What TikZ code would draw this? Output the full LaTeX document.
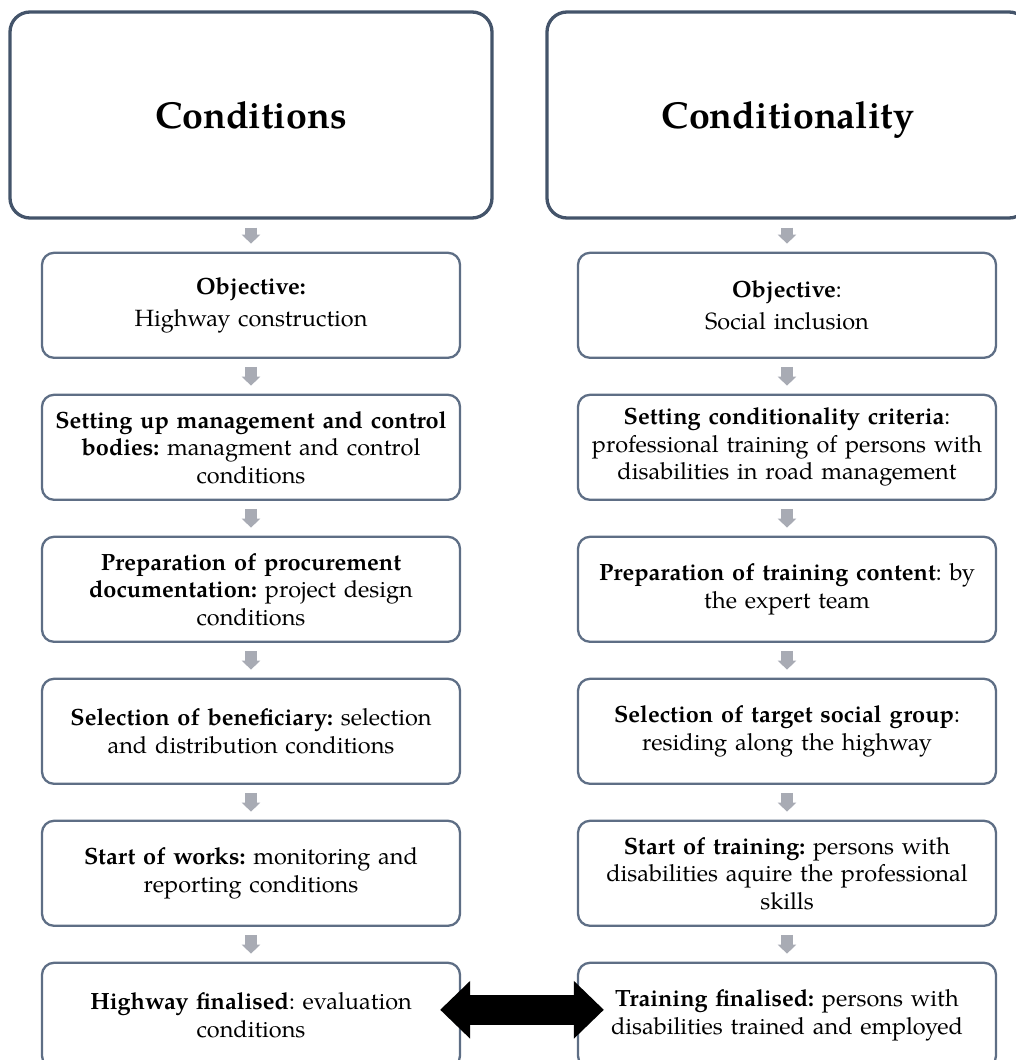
\documentclass[tikz,border=0pt]{standalone}
\usepackage{fontspec}
\setmainfont{TeX Gyre Pagella}
\usepackage{tikz}
\usetikzlibrary{positioning}
\usetikzlibrary{arrows.meta}
\frenchspacing
\tikzset{head/.style = {draw=mslate, line width=3.3pt, rounded corners=20pt,
                        minimum width=482pt, minimum height=206pt,
                        text height=27pt, text depth=0pt,
                        font=\fontsize{37.5}{44}\selectfont\bfseries}}
\tikzset{stage/.style = {draw=mframe, line width=2.3pt, rounded corners=12pt,
                         minimum width=418pt, minimum height=105pt,
                         text width=416pt, align=center, inner sep=0pt,
                         font=\fontsize{23.5}{27.5}\selectfont\frenchspacing}}
\tikzset{down/.style = {mgrey, line width=12pt, -{Triangle[width=18pt, length=9pt]},
                        shorten <=8pt, shorten >=8pt}}
\tikzset{both/.style = {black, line width=30pt,
                        {Triangle[width=56pt, length=30pt]}-{Triangle[width=56pt, length=30pt]}}}
\definecolor{mslate}{HTML}{44546A}
\definecolor{mframe}{HTML}{5E6E85}
\definecolor{mgrey}{HTML}{A8ABB4}

\begin{document}
\begin{tikzpicture}[x=1pt, y=-1pt]
      \useasboundingbox (0, 0) rectangle (1016, 1060);

      \node [head] (lhead) at (251, 115) {Conditions};
      \node [stage, below=32pt of lhead] (l1) {\textbf{Objective:}\\[4pt] Highway construction};
      \node [stage, below=34.7pt of l1] (l2) {\textbf{Setting up management and control}\\ \textbf{bodies:} managment and control\\ conditions};
      \node [stage, below=34.7pt of l2] (l3) {\textbf{Preparation of procurement}\\ \textbf{documentation:} project design\\ conditions};
      \node [stage, below=34.7pt of l3] (l4) {\textbf{Selection of beneficiary:} selection\\ and distribution conditions};
      \node [stage, below=34.7pt of l4] (l5) {\textbf{Start of works:} monitoring and\\ reporting conditions};
      \node [stage, below=34.7pt of l5] (l6) {\textbf{Highway finalised}: evaluation\\ conditions};

      \node [head] (rhead) at (788, 115) {Conditionality};
      \node [stage, below=32pt of rhead, xshift=-1pt] (r1) {\textbf{Objective}:\\[4pt] Social inclusion};
      \node [stage, below=34.7pt of r1] (r2) {\textbf{Setting conditionality criteria}:\\ professional training of persons with\\ disabilities in road management};
      \node [stage, below=34.7pt of r2] (r3) {\textbf{Preparation of training content}: by\\ the expert team};
      \node [stage, below=34.7pt of r3] (r4) {\textbf{Selection of target social group}:\\ residing along the highway};
      \node [stage, below=34.7pt of r4] (r5) {\textbf{Start of training:} persons with\\ disabilities aquire the professional\\ skills};
      \node [stage, below=34.7pt of r5] (r6) {\textbf{Training finalised:} persons with\\ disabilities trained and employed};

      \draw [down] (lhead.south) -- (l1.north);
      \draw [down] (l1.south) -- (l2.north);
      \draw [down] (l2.south) -- (l3.north);
      \draw [down] (l3.south) -- (l4.north);
      \draw [down] (l4.south) -- (l5.north);
      \draw [down] (l5.south) -- (l6.north);

      \draw [down] (r1.north |- rhead.south) -- (r1.north);
      \draw [down] (r1.south) -- (r2.north);
      \draw [down] (r2.south) -- (r3.north);
      \draw [down] (r3.south) -- (r4.north);
      \draw [down] (r4.south) -- (r5.north);
      \draw [down] (r5.south) -- (r6.north);

      \draw [both, shorten <=-21pt, shorten >=-27pt] ([yshift=5.5pt]l6.east) -- ([yshift=5.5pt]r6.west);
    \end{tikzpicture}
\end{document}
